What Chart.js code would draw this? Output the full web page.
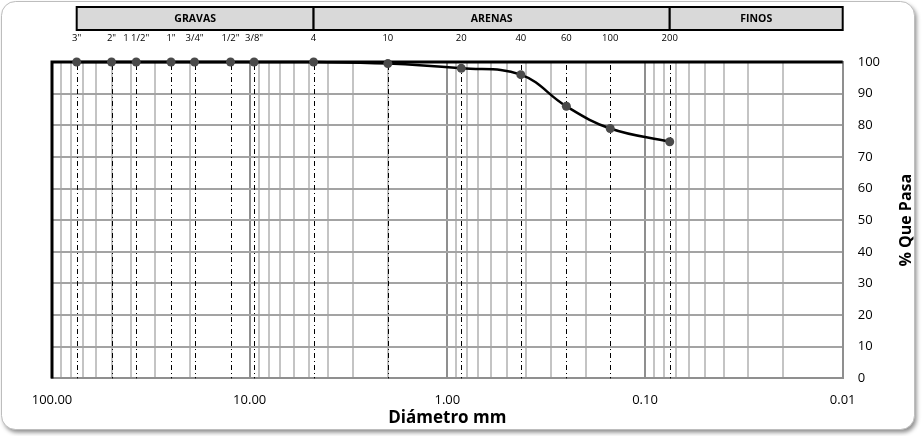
<!DOCTYPE html>
<html>
<head>
<meta charset="utf-8">
<script src="https://cdn.jsdelivr.net/npm/chart.js@4.4.1/dist/chart.umd.min.js"></script>
<style>
  html, body { margin: 0; padding: 0; background: #fff; }
  #wrap { width: 924px; height: 436px; }
</style>
</head>
<body>
<div id="wrap"><canvas id="granulo" width="924" height="436"></canvas></div>
<script>
// tamices y resultados del ensayo
const tamices = ['3"', '2"', '1 1/2"', '1"', '3/4"', '1/2"', '3/8"', '4', '10', '20', '40', '60', '100', '200'];
const aberturas = [75, 50, 37.5, 25, 19, 12.5, 9.5, 4.75, 2.0, 0.85, 0.425, 0.25, 0.15, 0.075];
const pasa = [100, 100, 100, 100, 100, 100, 100, 100, 99.5, 98, 96, 86, 79, 74.8];

// franjas de clasificacion
const zonas = ['GRAVAS', 'ARENAS', 'FINOS'];
const limitesZona = [75, 4.75, 0.075, 0.01];

// ejes
const decadas = [0.01, 0.1, 1, 10, 100];
const yTicks = [0, 10, 20, 30, 40, 50, 60, 70, 80, 90, 100];

const FONT = '"Open Sans", "Liberation Sans", sans-serif';

const puntos = aberturas.map((d, i) => ({ x: d, y: pasa[i] }));

function esDecada(v) {
  return decadas.some(d => Math.abs(v - d) < d * 1e-6);
}

// marco redondeado con sombra
const marco = {
  id: 'marco',
  beforeDraw(chart) {
    const c = chart.ctx;
    c.save();
    c.fillStyle = '#fff';
    c.fillRect(0, 0, chart.width, chart.height);
    c.shadowColor = 'rgba(0,0,0,0.45)';
    c.shadowBlur = 4;
    c.shadowOffsetX = 2;
    c.shadowOffsetY = 3;
    c.beginPath();
    c.roundRect(1.5, 1.5, 913, 428, 14);
    c.fillStyle = '#fff';
    c.fill();
    c.shadowColor = 'transparent';
    c.strokeStyle = '#bdbdbd';
    c.lineWidth = 1;
    c.stroke();
    c.restore();
  }
};

// lineas de tamices, franjas y titulos
const extras = {
  id: 'extras',
  beforeDatasetsDraw(chart) {
    const c = chart.ctx, a = chart.chartArea, x = chart.scales.x;
    c.save();
    c.strokeStyle = '#000';
    c.lineWidth = 1;
    c.setLineDash([5, 3, 1, 3]);
    aberturas.forEach(d => {
      const px = Math.round(x.getPixelForValue(d)) + 0.5;
      c.beginPath();
      c.moveTo(px, a.top + 3);
      c.lineTo(px, a.bottom);
      c.stroke();
    });
    c.setLineDash([]);
    // bordes izquierdo y superior negros
    c.lineWidth = 3;
    c.beginPath();
    c.moveTo(a.left, a.bottom);
    c.lineTo(a.left, a.top);
    c.lineTo(a.right, a.top);
    c.stroke();
    c.restore();
  },
  afterDraw(chart) {
    const c = chart.ctx, a = chart.chartArea, x = chart.scales.x;
    c.save();
    // franjas
    for (let i = 0; i < zonas.length; i++) {
      const x0 = x.getPixelForValue(limitesZona[i]);
      const x1 = x.getPixelForValue(limitesZona[i + 1]);
      c.fillStyle = '#d9d9d9';
      c.fillRect(x0, 7, x1 - x0, 23);
      c.strokeStyle = '#000';
      c.lineWidth = 2;
      c.strokeRect(x0, 7, x1 - x0, 23);
      c.fillStyle = '#000';
      c.font = 'bold 10.5px ' + FONT;
      c.textAlign = 'center';
      c.textBaseline = 'middle';
      c.fillText(zonas[i], (x0 + x1) / 2, 19);
    }
    // nombres de tamices
    c.font = '9.5px ' + FONT;
    c.fillStyle = '#000';
    c.textAlign = 'center';
    c.textBaseline = 'middle';
    aberturas.forEach((d, i) => {
      c.fillText(tamices[i], x.getPixelForValue(d), 38);
    });
    // titulo eje x
    c.font = 'bold 17px ' + FONT;
    c.fillText('Diámetro mm', (a.left + a.right) / 2, 418);
    // titulo eje y (de abajo hacia arriba)
    c.translate(906, (a.top + a.bottom) / 2);
    c.rotate(-Math.PI / 2);
    c.font = 'bold 16px ' + FONT;
    c.fillText('% Que Pasa', 0, 0);
    c.restore();
  }
};

new Chart(document.getElementById('granulo'), {
  type: 'line',
  data: {
    datasets: [{
      label: '% Que Pasa',
      data: puntos,
      borderColor: '#000',
      borderWidth: 2.5,
      tension: 0.4,
      pointRadius: 4.5,
      pointBackgroundColor: '#4a4a4a',
      pointBorderColor: '#4a4a4a',
      pointBorderWidth: 0,
      clip: false
    }]
  },
  options: {
    responsive: false,
    animation: false,
    events: [],
    layout: { padding: { top: 62, left: 52, right: 29, bottom: 14 } },
    plugins: { legend: { display: false }, tooltip: { enabled: false } },
    scales: {
      x: {
        type: 'logarithmic',
        reverse: true,
        min: 0.01,
        max: 100,
        afterBuildTicks(scale) {
          const t = [];
          decadas.slice(0, -1).forEach(d => {
            for (let m = 1; m < 10; m++) t.push({ value: parseFloat((d * m).toPrecision(3)) });
          });
          t.push({ value: 100 });
          scale.ticks = t;
        },
        grid: {
          drawTicks: false,
          lineWidth: 2,
          color: ctx => esDecada(ctx.tick.value) ? '#8f8f8f' : '#c4c4c4'
        },
        border: { color: '#8f8f8f', width: 2 },
        ticks: {
          autoSkip: false,
          maxRotation: 0,
          padding: 14,
          color: '#000',
          font: { family: FONT, size: 13 },
          callback: v => esDecada(v) ? v.toFixed(2) : ''
        }
      },
      y: {
        position: 'right',
        min: 0,
        max: 100,
        afterBuildTicks(scale) {
          scale.ticks = yTicks.map(v => ({ value: v }));
        },
        grid: { drawTicks: false, lineWidth: 2, color: '#a3a3a3' },
        border: { color: '#8f8f8f', width: 2 },
        ticks: {
          padding: 15,
          color: '#000',
          font: { family: FONT, size: 13 }
        }
      }
    }
  },
  plugins: [marco, extras]
});
</script>
</body>
</html>
